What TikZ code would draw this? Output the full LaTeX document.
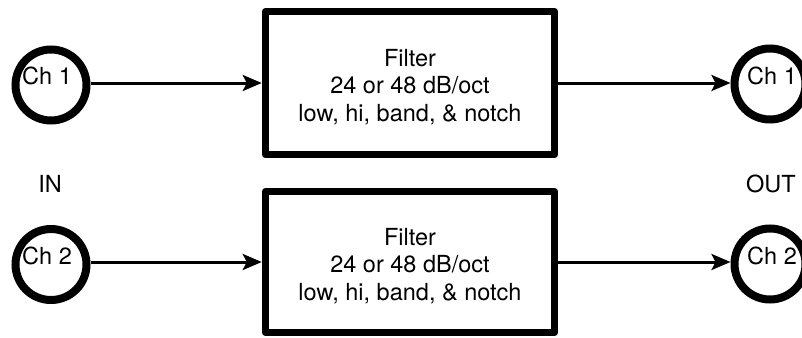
\documentclass[tikz,border=0pt]{standalone}
\usepackage{fontspec}
\setmainfont{TeX Gyre Heros}
\usetikzlibrary{arrows.meta}
\begin{document}
\begin{tikzpicture}[x=1pt,y=-1pt,
  txt/.style={font=\fontsize{23.5}{27.5}\selectfont, inner sep=0pt, align=center},
  filterbox/.style={draw, line width=7.5pt, line join=round, minimum width=289pt, minimum height=143pt, inner sep=0pt},
  port/.style={draw, circle, line width=8pt, minimum size=71pt, inner sep=0pt},
  signal/.style={line width=3pt, -{Stealth[length=19pt,width=16pt,inset=4pt]}}]
  \useasboundingbox (0,0) rectangle (802,337);

  % channel 1
  \node[port] (in1) at (51,85) {};
  \node[txt] (in1t) at (47,76) {Ch 1};
  \node[filterbox] (f1) at (410,83) {};
  \node[txt] (f1t) at (410,86.8) {Filter\\24 or 48 dB/oct\\low, hi, band, \& notch};
  \node[port] (out1) at (770,84) {};
  \node[txt] (out1t) at (772,76) {Ch 1};

  % channel 2
  \node[port] (in2) at (51,264.5) {};
  \node[txt] (in2t) at (47,256) {Ch 2};
  \node[filterbox, minimum height=141pt] (f2) at (410,262) {};
  \node[txt] (f2t) at (410,265.8) {Filter\\24 or 48 dB/oct\\low, hi, band, \& notch};
  \node[port] (out2) at (770,264) {};
  \node[txt] (out2t) at (772,256) {Ch 2};

  % side labels
  \node[txt] (inl) at (50,184) {IN};
  \node[txt] (outl) at (771,184) {OUT};

  % signal flow
  \draw[signal] (in1.east |- f1.west) -- (f1.west);
  \draw[signal] (f1.east) -- (out1.west |- f1.east);
  \draw[signal] (in2.east |- f2.west) -- (f2.west);
  \draw[signal] (f2.east) -- (out2.west |- f2.east);
\end{tikzpicture}
\end{document}
